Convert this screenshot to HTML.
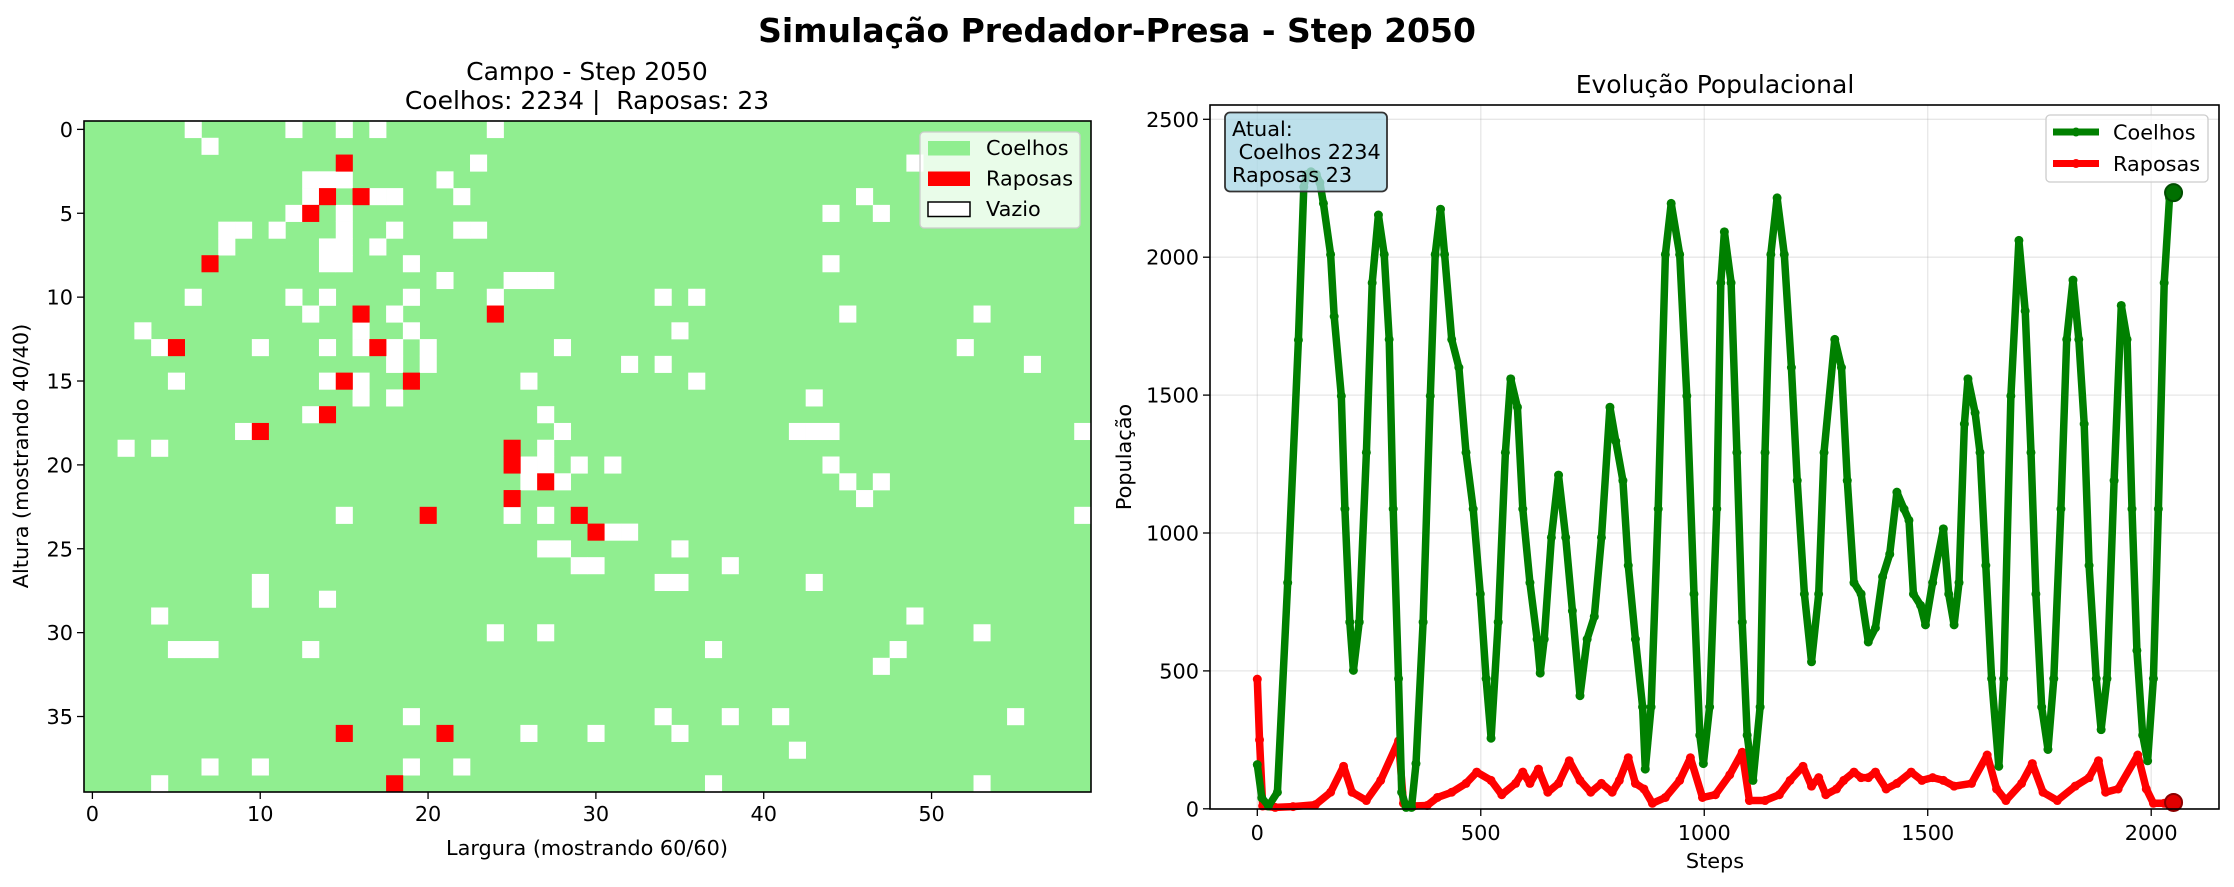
<!DOCTYPE html>
<html><head><meta charset="utf-8"><style>
body{margin:0;background:#fff}
svg{display:block;font-family:"DejaVu Sans","Liberation Sans",sans-serif}
</style></head><body>
<svg id="fig" width="2234" height="887" viewBox="0 0 2234 887" xmlns="http://www.w3.org/2000/svg">
<rect width="2234" height="887" fill="#fff"/>
<text x="1117" y="42" text-anchor="middle" font-size="33" font-weight="bold">Simulação Predador-Presa - Step 2050</text>
<text x="587" y="80" text-anchor="middle" font-size="25">Campo - Step 2050</text>
<text x="587" y="109" text-anchor="middle" font-size="25" xml:space="preserve">Coelhos: 2234 |  Raposas: 23</text>
<text x="1715" y="93" text-anchor="middle" font-size="25">Evolução Populacional</text>
<g id="grid"></g>
<g id="chart"></g>
</svg>
<script>
// ---- Field grid data (row -> columns) ----
const whiteCells = [[6,12,15,17,24],[7],[23,49],[13,14,15,21],[13,17,18,22,46],[12,15,44,47],[8,9,11,15,18,22,23],[8,14,15,17],[14,15,19,44],[21,25,26,27],[6,12,14,19,24,34,36],[13,18,45,53],[3,16,19,35],[4,10,14,16,18,20,28,52],[18,20,32,34,56],[5,14,16,26,36],[16,18,43],[13,27],[9,28,42,43,44,59],[2,4,27],[26,27,29,31,44],[26,28,45,47],[46],[15,25,27,59],[31,32],[27,28,35],[29,30,38],[10,34,35,43],[10,14],[4,49],[24,27,53],[5,6,7,13,37,48],[47],[],[],[19,34,38,41,55],[26,30,35],[42],[7,10,19,22],[4,37,53]];
const redCells = [[],[],[15],[],[14,16],[13],[],[],[7],[],[],[16,24],[],[5,17],[],[15,19],[],[14],[10],[25],[25],[27],[25],[20,29],[30],[],[],[],[],[],[],[],[],[],[],[],[15,21],[],[],[18]];
const gridRows = 40, gridCols = 60;
const gx0=84, gx1=1091, gy0=121, gy1=792;
const cw=(gx1-gx0)/gridCols, ch=(gy1-gy0)/gridRows;
const NS="http://www.w3.org/2000/svg";
function mk(tag,attrs,parent,text){const e=document.createElementNS(NS,tag);for(const k in attrs)e.setAttribute(k,attrs[k]);if(text!==undefined)e.textContent=text;parent.appendChild(e);return e;}
const G=document.getElementById('grid');
const bg=mk('rect',{x:gx0,y:gy0,width:gx1-gx0,height:gy1-gy0,fill:'#90ee90'},G);


whiteCells.forEach((cols,r)=>cols.forEach(c=>{
  const e=mk('rect',{x:gx0+c*cw,y:gy0+r*ch,width:cw+0.3,height:ch+0.3,fill:'#ffffff'},G);
  
  
}));
redCells.forEach((cols,r)=>cols.forEach(c=>{
  const e=mk('rect',{x:gx0+c*cw,y:gy0+r*ch,width:cw+0.3,height:ch+0.3,fill:'#ff0000'},G);
  
  
}));
mk('rect',{x:gx0,y:gy0,width:gx1-gx0,height:gy1-gy0,fill:'none',stroke:'#000','stroke-width':1.6},G);
const gxTicks=[0,10,20,30,40,50], gyTicks=[0,5,10,15,20,25,30,35];
gxTicks.forEach(t=>{const x=gx0+(t+0.5)*cw;mk('line',{x1:x,x2:x,y1:gy1,y2:gy1+7,stroke:'#000','stroke-width':1.3},G);
  const e=mk('text',{x:x,y:gy1+29,'text-anchor':'middle','font-size':20.8},G,String(t));
  });
gyTicks.forEach(t=>{const y=gy0+(t+0.5)*ch;mk('line',{x1:gx0-7,x2:gx0,y1:y,y2:y,stroke:'#000','stroke-width':1.3},G);
  const e=mk('text',{x:gx0-11,y:y+7.5,'text-anchor':'end','font-size':20.8},G,String(t));
  });
let e=mk('text',{x:587,y:855,'text-anchor':'middle','font-size':20.8},G,'Largura (mostrando 60/60)');

e=mk('text',{x:0,y:0,'text-anchor':'middle','font-size':20.8,transform:'translate(28,456) rotate(-90)'},G,'Altura (mostrando 40/40)');

// legend
const LG=mk('g',{},G);

mk('rect',{x:920,y:132,width:160,height:96,rx:4,fill:'#fff','fill-opacity':0.8,stroke:'#ccc','stroke-width':1.3},LG);
const legItems=[['Coelhos','#90ee90','none'],['Raposas','#ff0000','none'],['Vazio','#ffffff','#000']];
legItems.forEach((it,i)=>{const y=148+i*30.5;
  mk('rect',{x:928,y:y-7,width:42,height:14.5,fill:it[1],stroke:it[2],'stroke-width':1.5},LG);
  const t=mk('text',{x:986,y:y+7,'font-size':20.8},LG,it[0]);
  });

// ---- Population chart data ----
const rabbitSteps=[0,10,25,45,68,92,104,110,120,132,140,148,164,172,188,196,207,215,228,244,257,271,284,295,304,316,323,333,345,355,371,387,398,410,419,435,451,467,483,499,512,523,539,555,567,582,594,610,626,633,642,658,674,690,705,722,738,754,770,789,802,818,830,846,862,868,881,897,913,926,945,961,977,990,998,1012,1028,1037,1045,1060,1073,1085,1096,1109,1125,1136,1149,1163,1179,1195,1208,1224,1240,1256,1268,1292,1307,1320,1335,1351,1367,1383,1399,1415,1431,1447,1458,1468,1484,1495,1511,1535,1547,1559,1570,1582,1590,1606,1617,1630,1643,1659,1670,1686,1704,1718,1731,1742,1755,1769,1782,1798,1811,1825,1838,1850,1861,1877,1888,1901,1917,1933,1946,1957,1968,1981,1992,2005,2016,2029,2041,2050];
const rabbitValues=[160,40,10,60,820,1700,2255,2300,2310,2300,2270,2195,2010,1785,1497,1087,677,502,677,1292,1907,2153,2010,1702,1087,472,60,5,5,164,677,1497,2010,2174,2010,1702,1600,1292,1087,779,472,256,677,1292,1559,1456,1087,820,615,492,615,984,1210,984,718,410,615,697,984,1456,1333,1190,882,615,369,144,369,1087,2010,2195,2010,1497,779,267,164,369,1087,1907,2092,1907,1292,677,267,103,369,1292,2010,2215,2010,1600,1190,779,533,779,1292,1702,1600,1190,820,779,605,656,841,923,1148,1087,1046,779,738,667,820,1015,779,667,820,1395,1559,1436,1292,882,472,154,472,1497,2061,1805,1292,779,369,215,472,1087,1702,1917,1702,1395,882,472,287,472,1190,1825,1702,1087,574,267,174,472,1087,1907,2215,2234];
const foxSteps=[0,5,12,40,80,130,164,193,212,244,276,316,327,350,380,403,435,467,491,523,547,578,594,610,629,650,674,698,722,746,770,794,810,830,846,865,884,913,945,969,996,1025,1057,1085,1101,1136,1168,1192,1221,1240,1256,1272,1296,1312,1335,1351,1367,1383,1407,1431,1463,1487,1511,1535,1559,1598,1633,1654,1675,1710,1734,1758,1790,1830,1861,1882,1898,1926,1970,1989,2005,2029,2050];
const foxValues=[470,250,10,5,8,15,60,154,60,30,103,246,20,10,12,41,60,92,133,103,51,92,133,92,144,60,92,174,103,60,92,60,103,185,92,72,20,41,103,185,41,51,123,205,30,30,51,103,154,82,113,51,72,103,133,113,113,133,72,92,133,103,113,103,82,92,195,72,30,92,164,60,30,82,113,174,60,72,195,72,20,20,23];
const yTicks=[0,500,1000,1500,2000,2500], xTicks=[0,500,1000,1500,2000];
const ax0=1210, ax1=2219, ay0=105, ay1=809;
const X=s=>1257.3+s*(2151.2-1257.3)/2000;
const Y=v=>808.8-v*(808.8-119.3)/2500;
const C=document.getElementById('chart');
mk('rect',{x:ax0,y:ay0,width:ax1-ax0,height:ay1-ay0,fill:'#fff'},C);
xTicks.forEach(t=>{const x=X(t);mk('line',{x1:x,x2:x,y1:ay0,y2:ay1,stroke:'#b0b0b0','stroke-opacity':0.3,'stroke-width':1.3},C);
  mk('line',{x1:x,x2:x,y1:ay1,y2:ay1+7,stroke:'#000','stroke-width':1.3},C);
  const t2=mk('text',{x:x,y:ay1+31,'text-anchor':'middle','font-size':20.8},C,String(t));
  });
yTicks.forEach(t=>{const y=Y(t);mk('line',{x1:ax0,x2:ax1,y1:y,y2:y,stroke:'#b0b0b0','stroke-opacity':0.3,'stroke-width':1.3},C);
  mk('line',{x1:ax0-7,x2:ax0,y1:y,y2:y,stroke:'#000','stroke-width':1.3},C);
  const t2=mk('text',{x:ax0-11,y:y+7.5,'text-anchor':'end','font-size':20.8},C,String(t));
  });
function series(steps,vals,color,name){
  const pts=steps.map((s,i)=>X(s).toFixed(1)+','+Y(vals[i]).toFixed(1)).join(' ');
  const p=mk('polyline',{points:pts,fill:'none',stroke:color,'stroke-width':7.5,'stroke-linejoin':'round','stroke-linecap':'round'},C);
  
  
  steps.forEach((s,i)=>{mk('circle',{cx:X(s),cy:Y(vals[i]),r:4.5,fill:color},C);});
}
series(foxSteps,foxValues,'#ff0000','foxes-line');
series(rabbitSteps,rabbitValues,'#008000','rabbits-line');
const lastR=rabbitSteps.length-1, lastF=foxSteps.length-1;
const m1=mk('circle',{cx:X(rabbitSteps[lastR]),cy:Y(rabbitValues[lastR]),r:8.5,fill:'#007000',stroke:'#004d00','stroke-width':2},C);

const m2=mk('circle',{cx:X(foxSteps[lastF]),cy:Y(foxValues[lastF]),r:8.5,fill:'#e00000',stroke:'#8b0000','stroke-width':2},C);

mk('rect',{x:ax0,y:ay0,width:ax1-ax0,height:ay1-ay0,fill:'none',stroke:'#000','stroke-width':1.6},C);
e=mk('text',{x:1715,y:868,'text-anchor':'middle','font-size':20.8},C,'Steps');

e=mk('text',{x:0,y:0,'text-anchor':'middle','font-size':20.8,transform:'translate(1131,457) rotate(-90)'},C,'População');

// info box
const IB=mk('g',{},C);

mk('rect',{x:1225,y:112.5,width:162,height:79,rx:5,fill:'#add8e6','fill-opacity':0.8,stroke:'#333','stroke-width':1.8},IB);
mk('text',{x:1232,y:136,'font-size':20.8},IB,'Atual:');
mk('text',{x:1232,y:159,'font-size':20.8},IB,'\u00a0Coelhos 2234');
mk('text',{x:1232,y:182,'font-size':20.8},IB,'Raposas 23');
// legend
const RL=mk('g',{},C);

mk('rect',{x:2046,y:115,width:162,height:67,rx:4,fill:'#fff','fill-opacity':0.8,stroke:'#ccc','stroke-width':1.3},RL);
[['Coelhos','#008000',132],['Raposas','#ff0000',163.5]].forEach(it=>{
  mk('line',{x1:2053,x2:2099,y1:it[2],y2:it[2],stroke:it[1],'stroke-width':7},RL);
  mk('circle',{cx:2076,cy:it[2],r:4.5,fill:it[1]},RL);
  const t=mk('text',{x:2113,y:it[2]+7.5,'font-size':20.8},RL,it[0]);
  
});
</script>
</body></html>
